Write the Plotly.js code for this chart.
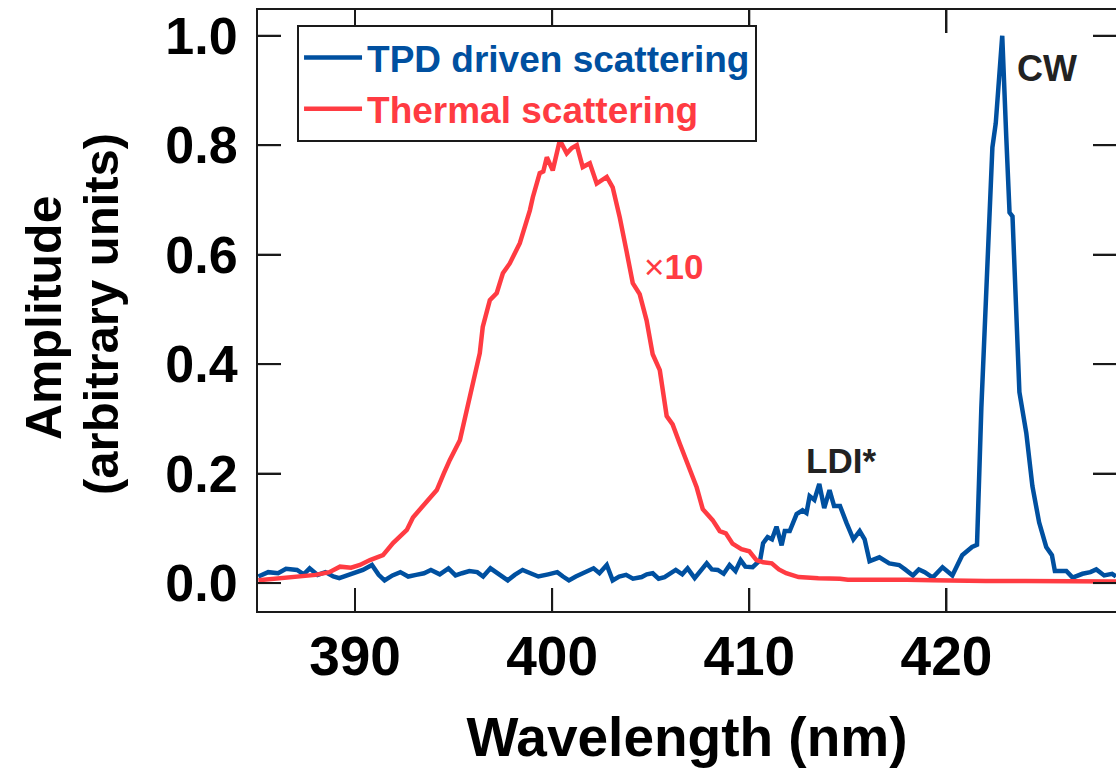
<!DOCTYPE html>
<html>
<head>
<meta charset="utf-8">
<script src="https://cdn.plot.ly/plotly-3.0.1.min.js"></script>
<style>
  html, body { margin: 0; padding: 0; background: #fff; }
  #chart { width: 1116px; height: 777px; }
</style>
</head>
<body>
<div id="chart"></div>
<script>
// TPD driven scattering (blue)
const tpdWavelength = [385.1,385.6,386.1,386.5,387.06,387.4,387.7,388.1,388.5,388.9,389.2,389.6,390.0,390.4,390.86,391.2,391.5,391.9,392.3,392.7,393.1,393.5,393.85,394.3,394.74,395.1,395.43,395.8,396.2,396.5,396.87,397.3,397.75,398.1,398.5,398.9,399.3,399.8,400.26,400.55,400.85,401.2,401.6,402.1,402.4,402.77,403.07,403.4,403.75,404.1,404.54,404.8,405.1,405.4,405.7,406.0,406.27,406.6,406.87,407.23,407.5,407.84,408.1,408.4,408.7,409.0,409.3,409.56,409.8,410.17,410.55,410.7,410.93,411.15,411.38,411.64,411.8,412.05,412.4,412.7,412.9,413.06,413.3,413.55,413.8,414.07,414.3,414.6,414.93,415.28,415.6,415.85,416.1,416.6,417.1,417.6,417.9,418.3,418.6,418.9,419.3,419.8,420.3,420.8,421.3,421.55,421.77,422.0,422.33,422.5,422.83,423.03,423.2,423.35,423.7,424.05,424.36,424.7,425.06,425.35,425.5,426.08,426.4,426.9,427.3,427.6,428.0,428.4,428.6];
const tpdAmplitude = [0.012,0.020,0.018,0.026,0.024,0.016,0.027,0.015,0.020,0.012,0.009,0.014,0.018,0.024,0.033,0.015,0.005,0.014,0.020,0.012,0.015,0.018,0.024,0.016,0.027,0.014,0.018,0.022,0.020,0.012,0.027,0.016,0.005,0.015,0.024,0.018,0.012,0.016,0.020,0.012,0.005,0.012,0.018,0.027,0.018,0.033,0.005,0.012,0.015,0.008,0.011,0.016,0.018,0.008,0.011,0.018,0.024,0.016,0.027,0.009,0.022,0.036,0.025,0.024,0.017,0.033,0.022,0.042,0.030,0.029,0.042,0.073,0.084,0.080,0.103,0.069,0.095,0.095,0.126,0.133,0.128,0.159,0.152,0.181,0.137,0.170,0.141,0.141,0.110,0.080,0.095,0.080,0.040,0.047,0.036,0.033,0.025,0.014,0.025,0.020,0.010,0.029,0.014,0.051,0.066,0.070,0.32,0.506,0.796,0.84,1.0,0.818,0.677,0.67,0.349,0.274,0.177,0.111,0.066,0.051,0.022,0.022,0.010,0.017,0.020,0.025,0.014,0.017,0.012];

// Thermal scattering (red, x10)
const thermalWavelength = [385.1,386.0,387.0,388.0,388.7,389.24,389.8,390.25,390.76,391.42,391.93,392.3,392.63,392.94,393.3,393.65,394.15,394.5,394.81,395.32,395.67,395.98,396.33,396.48,396.84,397.19,397.5,397.85,398.36,398.87,399.02,399.37,399.55,399.73,400.03,400.39,400.74,401.0,401.25,401.55,401.91,402.26,402.56,402.77,403.07,403.43,403.78,404.09,404.44,404.79,405.1,405.46,405.81,406.11,406.47,406.98,407.33,407.64,408.14,408.5,408.81,409.15,409.6,410.0,410.36,410.7,411.14,411.5,411.87,412.5,412.9,413.5,414.6,415.0,416.0,417.0,418.0,419.3,420.5,422.0,424.0,426.0,428.6];
const thermalAmplitude = [0.005,0.008,0.012,0.015,0.020,0.030,0.028,0.033,0.042,0.051,0.073,0.085,0.097,0.12,0.135,0.152,0.17,0.20,0.225,0.261,0.316,0.365,0.42,0.468,0.517,0.53,0.566,0.584,0.621,0.681,0.705,0.749,0.752,0.778,0.754,0.809,0.785,0.795,0.80,0.76,0.767,0.73,0.736,0.742,0.723,0.668,0.605,0.548,0.528,0.48,0.418,0.389,0.305,0.29,0.255,0.206,0.175,0.135,0.115,0.095,0.091,0.072,0.062,0.058,0.042,0.038,0.036,0.025,0.018,0.011,0.010,0.009,0.008,0.006,0.006,0.005,0.006,0.005,0.004,0.004,0.004,0.003,0.003];

const xTickVals = [390, 400, 410, 420];
const yTickVals = [0.0, 0.2, 0.4, 0.6, 0.8, 1.0];
const yTickText = ["0.0", "0.2", "0.4", "0.6", "0.8", "1.0"];

const BLUE = "#0050A0";
const RED = "#FF3B42";
const INK = "#1a1a1a";
const FONT = "Liberation Sans, Arial, Helvetica, sans-serif";

const traces = [
  { x: tpdWavelength, y: tpdAmplitude, type: "scatter", mode: "lines",
    name: '<span style="color:' + BLUE + '">TPD driven scattering</span>',
    line: { color: BLUE, width: 4.5 } },
  { x: thermalWavelength, y: thermalAmplitude, type: "scatter", mode: "lines",
    name: '<span style="color:' + RED + '">Thermal scattering</span>',
    line: { color: RED, width: 4.5 } }
];

const axisCommon = {
  showline: true, mirror: "ticks", linecolor: INK, linewidth: 2,
  ticks: "inside", ticklen: 23, tickwidth: 2, tickcolor: INK,
  showgrid: false, zeroline: false
};

// inside tick marks on all four sides, placed at the axis tick values
const TICK_FX = 23 / 858, TICK_FY = 23 / 601;
const tickLine = { color: INK, width: 2 };
const tickShapes = [];
xTickVals.forEach(function (v) {
  tickShapes.push({ type: "line", layer: "above", xref: "x", yref: "paper", x0: v, x1: v, y0: 0, y1: TICK_FY, line: tickLine });
  tickShapes.push({ type: "line", layer: "above", xref: "x", yref: "paper", x0: v, x1: v, y0: 1, y1: 1 - TICK_FY, line: tickLine });
});
yTickVals.forEach(function (v) {
  tickShapes.push({ type: "line", layer: "above", xref: "paper", yref: "y", x0: 0, x1: TICK_FX, y0: v, y1: v, line: tickLine });
  tickShapes.push({ type: "line", layer: "above", xref: "paper", yref: "y", x0: 1, x1: 1 - TICK_FX, y0: v, y1: v, line: tickLine });
});

const layout = {
  width: 1116, height: 777,
  margin: { l: 258, r: 0, t: 10, b: 166 },
  paper_bgcolor: "#fff", plot_bgcolor: "#fff",
  font: { family: FONT, color: "#000" },
  showlegend: true,
  legend: {
    x: 0.0455, y: 0.975, xanchor: "left", yanchor: "top",
    bgcolor: "#fff", bordercolor: INK, borderwidth: 2,
    font: { family: FONT, size: 37, weight: "bold" },
    itemwidth: 58, tracegroupgap: 0
  },
  xaxis: Object.assign({}, axisCommon, {
    range: [385.08, 428.6], tickvals: xTickVals,
    tickfont: { family: FONT, size: 55, weight: "bold", color: "#000" },
    ticklabelstandoff: -4,
    title: { text: "Wavelength (nm)", font: { family: FONT, size: 55, weight: "bold", color: "#000" }, standoff: 31 }
  }),
  yaxis: Object.assign({}, axisCommon, {
    range: [-0.051, 1.047], tickvals: yTickVals, ticktext: yTickText,
    tickfont: { family: FONT, size: 52, weight: "bold", color: "#000" },
    ticklabelstandoff: 8
  }),
  shapes: tickShapes,
  annotations: [
    { text: "Amplitude", xref: "paper", yref: "paper", x: (44 - 258) / 858, y: (611 - 318) / 601,
      xanchor: "center", yanchor: "middle", textangle: -90, showarrow: false,
      font: { family: FONT, size: 50, weight: "bold", color: "#000" } },
    { text: "(arbitrary units)", xref: "paper", yref: "paper", x: (101 - 258) / 858, y: (611 - 314) / 601,
      xanchor: "center", yanchor: "middle", textangle: -90, showarrow: false,
      font: { family: FONT, size: 49, weight: "bold", color: "#000" } },
    { text: "CW", xref: "x", yref: "y", x: 425.12, y: 0.941, showarrow: false,
      font: { family: FONT, size: 36, weight: "bold", color: "#222" } },
    { text: "LDI*", xref: "x", yref: "y", x: 414.63, y: 0.2247, showarrow: false,
      font: { family: FONT, size: 35, weight: "bold", color: "#222" } },
    { text: "<span style=\"font-weight:normal\">×</span>10", xref: "x", yref: "y", x: 406.16, y: 0.579, showarrow: false,
      font: { family: FONT, size: 35, weight: "bold", color: RED } }
  ]
};

Plotly.newPlot("chart", traces, layout, { displayModeBar: false, staticPlot: true });
</script>
</body>
</html>
